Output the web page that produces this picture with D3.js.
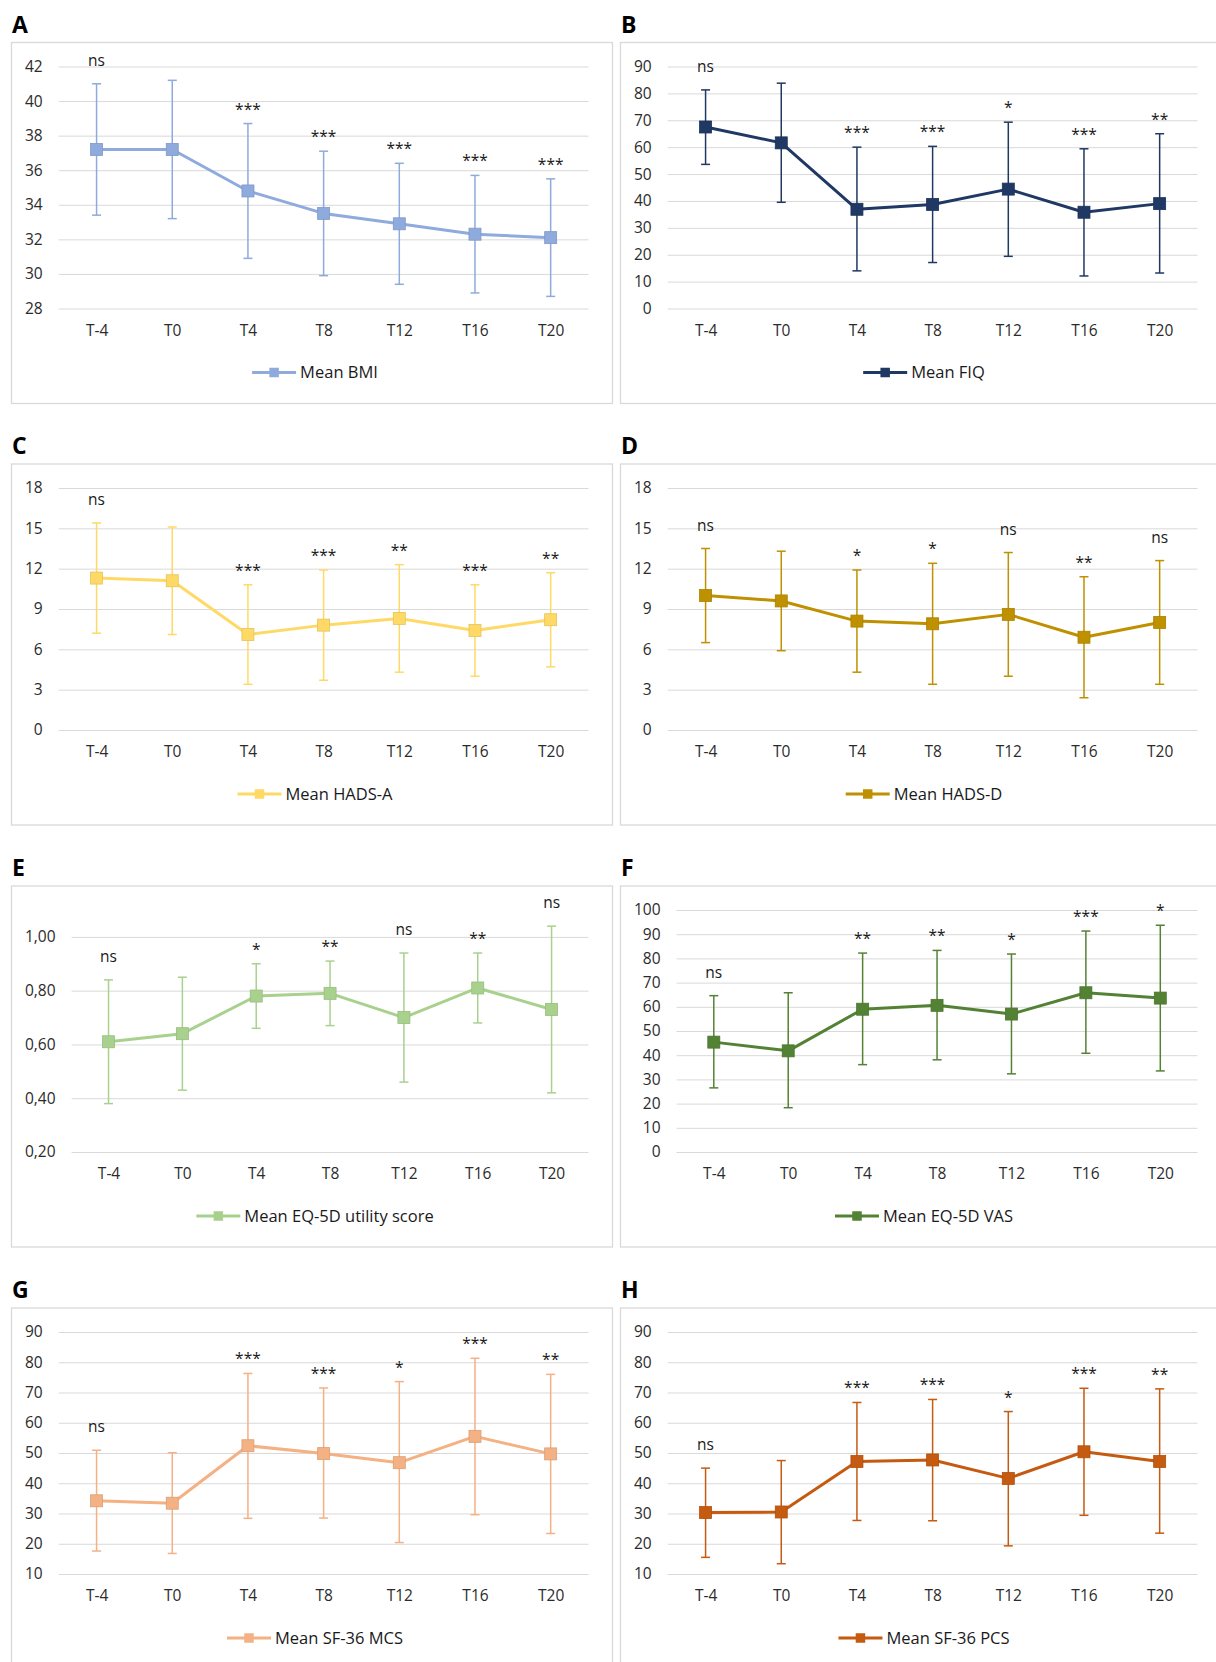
<!DOCTYPE html>
<html lang="en">
<head>
    <meta charset="UTF-8">
    <title>Outcome measures over time</title>
    <style>
        body { margin: 0; background: #fff; }
        svg { display: block; font-family: "Open Sans", sans-serif; }
        .frame { fill: none; stroke: #d9d9d9; stroke-width: 1.3px; }
        .grid line { stroke: #d9d9d9; stroke-width: 1px; }
        .tick-label { font-family: "Open Sans", sans-serif; font-size: 15.5px; fill: #2b2b2b; }
        .sig { font-family: "Open Sans", sans-serif; font-size: 15.5px; fill: #1a1a1a; text-anchor: middle; }
        .legend-text { font-family: "Open Sans", sans-serif; font-size: 16.5px; fill: #1a1a1a; }
        .panel-letter { font-family: "Open Sans", sans-serif; font-size: 23px; font-weight: 700; fill: #000; }
    </style>
</head>
<body>
    <svg width="1216" height="1662"></svg>
    <script src="https://d3js.org/d3.v7.min.js"></script>
    <script>
        const timepoints = ["T-4", "T0", "T4", "T8", "T12", "T16", "T20"];

        // A - BMI
        const bmiMean  = [37.2, 37.2, 34.8, 33.5, 32.9, 32.3, 32.1];
        const bmiUpper = [41.0, 41.2, 38.7, 37.1, 36.4, 35.7, 35.5];
        const bmiLower = [33.4, 33.2, 30.9, 29.9, 29.4, 28.9, 28.7];
        const bmiSig   = ["ns", "", "***", "***", "***", "***", "***"];
        const bmiTicks = [28, 30, 32, 34, 36, 38, 40, 42];

        // B - FIQ
        const fiqMean  = [67.5, 61.6, 36.9, 38.7, 44.4, 35.8, 39.0];
        const fiqUpper = [81.3, 83.8, 60.0, 60.3, 69.3, 59.4, 65.0];
        const fiqLower = [53.6, 39.5, 14.0, 17.1, 19.4, 12.1, 13.2];
        const fiqSig   = ["ns", "", "***", "***", "*", "***", "**"];
        const fiqTicks = [0, 10, 20, 30, 40, 50, 60, 70, 80, 90];

        // C - HADS-A
        const hadsAMean  = [11.3, 11.1, 7.1, 7.8, 8.3, 7.4, 8.2];
        const hadsAUpper = [15.4, 15.1, 10.8, 11.9, 12.3, 10.8, 11.7];
        const hadsALower = [7.2, 7.1, 3.4, 3.7, 4.3, 4.0, 4.7];
        const hadsASig   = ["ns", "", "***", "***", "**", "***", "**"];

        // D - HADS-D
        const hadsDMean  = [10.0, 9.6, 8.1, 7.9, 8.6, 6.9, 8.0];
        const hadsDUpper = [13.5, 13.3, 11.9, 12.4, 13.2, 11.4, 12.6];
        const hadsDLower = [6.5, 5.9, 4.3, 3.4, 4.0, 2.4, 3.4];
        const hadsDSig   = ["ns", "", "*", "*", "ns", "**", "ns"];
        const hadsTicks  = [0, 3, 6, 9, 12, 15, 18];

        // E - EQ-5D utility
        const eqMean  = [0.61, 0.64, 0.78, 0.79, 0.70, 0.81, 0.73];
        const eqUpper = [0.84, 0.85, 0.90, 0.91, 0.94, 0.94, 1.04];
        const eqLower = [0.38, 0.43, 0.66, 0.67, 0.46, 0.68, 0.42];
        const eqSig   = ["ns", "", "*", "**", "ns", "**", "ns"];
        const eqTicks = [0.2, 0.4, 0.6, 0.8, 1.0];

        // F - EQ-5D VAS
        const vasMean  = [45.4, 41.8, 59.0, 60.6, 57.0, 65.8, 63.6];
        const vasUpper = [64.6, 65.8, 82.2, 83.3, 81.8, 91.3, 93.7];
        const vasLower = [26.5, 18.3, 36.1, 38.1, 32.3, 40.8, 33.5];
        const vasSig   = ["ns", "", "**", "**", "*", "***", "*"];
        const vasTicks = [0, 10, 20, 30, 40, 50, 60, 70, 80, 90, 100];

        // G - SF-36 MCS
        const mcsMean  = [34.2, 33.4, 52.4, 49.8, 46.8, 55.5, 49.7];
        const mcsUpper = [50.9, 50.1, 76.3, 71.5, 73.6, 81.3, 76.0];
        const mcsLower = [17.6, 16.8, 28.4, 28.5, 20.4, 29.6, 23.4];
        const mcsSig   = ["ns", "", "***", "***", "*", "***", "**"];

        // H - SF-36 PCS
        const pcsMean  = [30.3, 30.5, 47.2, 47.7, 41.6, 50.4, 47.2];
        const pcsUpper = [45.0, 47.5, 66.7, 67.7, 63.7, 71.4, 71.2];
        const pcsLower = [15.5, 13.4, 27.7, 27.6, 19.3, 29.4, 23.5];
        const pcsSig   = ["ns", "", "***", "***", "*", "***", "**"];
        const sfTicks  = [10, 20, 30, 40, 50, 60, 70, 80, 90];

        const commaFmt = d3.formatLocale({ decimal: ",", thousands: ".", grouping: [3], currency: ["", ""] }).format(".2f");

        const panels = [
            { letter: "A", name: "Mean BMI", mean: bmiMean, upper: bmiUpper, lower: bmiLower, sig: bmiSig, ticks: bmiTicks, max: 42, color: "#8FAADC" },
            { letter: "B", name: "Mean FIQ", mean: fiqMean, upper: fiqUpper, lower: fiqLower, sig: fiqSig, ticks: fiqTicks, max: 90, color: "#203864" },
            { letter: "C", name: "Mean HADS-A", mean: hadsAMean, upper: hadsAUpper, lower: hadsALower, sig: hadsASig, ticks: hadsTicks, max: 18, color: "#FFD966" },
            { letter: "D", name: "Mean HADS-D", mean: hadsDMean, upper: hadsDUpper, lower: hadsDLower, sig: hadsDSig, ticks: hadsTicks, max: 18, color: "#BF9000" },
            { letter: "E", name: "Mean EQ-5D utility score", mean: eqMean, upper: eqUpper, lower: eqLower, sig: eqSig, ticks: eqTicks, max: 1.1, color: "#A9D18E", fmt: commaFmt },
            { letter: "F", name: "Mean EQ-5D VAS", mean: vasMean, upper: vasUpper, lower: vasLower, sig: vasSig, ticks: vasTicks, max: 100, color: "#548235" },
            { letter: "G", name: "Mean SF-36 MCS", mean: mcsMean, upper: mcsUpper, lower: mcsLower, sig: mcsSig, ticks: sfTicks, max: 90, color: "#F4B183" },
            { letter: "H", name: "Mean SF-36 PCS", mean: pcsMean, upper: pcsUpper, lower: pcsLower, sig: pcsSig, ticks: sfTicks, max: 90, color: "#C55A11" }
        ];

        const svg = d3.select("svg");

        // frame layout
        const colX = [11.5, 620.5];
        const rowY = [42.5, 464, 886, 1308];
        const frameW = 601, frameH = 361;
        const plotTop = 24, plotBottom = 266, plotRight = 577;

        panels.forEach((p, i) => {
            const fx = colX[i % 2], fy = rowY[Math.floor(i / 2)];
            const g = svg.append("g").attr("transform", `translate(${fx},${fy})`);

            svg.append("text")
                .attr("class", "panel-letter")
                .attr("x", fx + 0.5)
                .attr("y", fy - 10)
                .text(p.letter);

            g.append("rect")
                .attr("class", "frame")
                .attr("width", frameW)
                .attr("height", frameH);

            const fmt = p.fmt || d3.format("d");

            // measure widest y label to place plot area
            const probe = g.append("text").attr("class", "tick-label");
            let maxW = 0;
            p.ticks.forEach(t => {
                probe.text(fmt(t));
                maxW = Math.max(maxW, probe.node().getComputedTextLength());
            });
            probe.remove();
            const plotLeft = 13.5 + maxW + 16;

            const x = d3.scalePoint()
                .domain(timepoints)
                .range([plotLeft, plotRight])
                .padding(0.5);

            const y = d3.scaleLinear()
                .domain([p.ticks[0], p.max])
                .range([plotBottom, plotTop]);

            // gridlines + y labels
            const yAxis = g.append("g")
                .attr("class", "grid")
                .attr("transform", `translate(${plotLeft},0)`)
                .call(d3.axisLeft(y)
                    .tickValues(p.ticks)
                    .tickSize(-(plotRight - plotLeft))
                    .tickPadding(16)
                    .tickFormat(fmt));
            yAxis.attr("font-family", null).attr("font-size", null);
            yAxis.select(".domain").remove();
            yAxis.selectAll("text")
                .attr("class", "tick-label")
                .attr("fill", null);

            // x labels
            const xAxis = g.append("g")
                .attr("transform", `translate(0,${plotBottom})`)
                .call(d3.axisBottom(x).tickSize(0));
            xAxis.attr("font-family", null).attr("font-size", null);
            xAxis.select(".domain").remove();
            xAxis.selectAll("text")
                .attr("class", "tick-label")
                .attr("fill", null)
                .attr("dy", "0.36em")
                .attr("y", 21.5);

            const pts = timepoints.map((t, j) => ({
                t, mean: p.mean[j], upper: p.upper[j], lower: p.lower[j], sig: p.sig[j]
            }));

            // line
            g.append("path")
                .datum(pts)
                .attr("fill", "none")
                .attr("stroke", p.color)
                .attr("stroke-width", 3)
                .attr("stroke-linejoin", "round")
                .attr("d", d3.line().x(d => x(d.t)).y(d => y(d.mean)));

            // error bars
            const eb = g.selectAll(".err")
                .data(pts)
                .enter().append("g")
                .attr("class", "err")
                .attr("stroke", p.color)
                .attr("stroke-width", 1.5);
            eb.append("line")
                .attr("x1", d => x(d.t)).attr("x2", d => x(d.t))
                .attr("y1", d => y(d.lower)).attr("y2", d => y(d.upper));
            eb.append("line")
                .attr("x1", d => x(d.t) - 4.5).attr("x2", d => x(d.t) + 4.5)
                .attr("y1", d => y(d.upper)).attr("y2", d => y(d.upper));
            eb.append("line")
                .attr("x1", d => x(d.t) - 4.5).attr("x2", d => x(d.t) + 4.5)
                .attr("y1", d => y(d.lower)).attr("y2", d => y(d.lower));

            // markers
            g.selectAll(".mk")
                .data(pts)
                .enter().append("rect")
                .attr("class", "mk")
                .attr("x", d => x(d.t) - 6)
                .attr("y", d => y(d.mean) - 6)
                .attr("width", 12)
                .attr("height", 12)
                .attr("fill", p.color)
                .attr("stroke", d3.rgb(p.color).darker(0.3))
                .attr("stroke-width", 0.8);

            // significance labels
            g.selectAll(".sig")
                .data(pts.filter(d => d.sig))
                .enter().append("text")
                .attr("class", "sig")
                .attr("x", d => x(d.t))
                .attr("y", d => y(d.upper) - (d.sig === "ns" ? 18 : 9))
                .text(d => d.sig);

            // legend
            const lg = g.append("g");
            lg.append("line")
                .attr("x1", 0).attr("x2", 44)
                .attr("stroke", p.color)
                .attr("stroke-width", 3);
            lg.append("rect")
                .attr("x", 17.25).attr("y", -4.75)
                .attr("width", 9.5).attr("height", 9.5)
                .attr("fill", p.color);
            const lt = lg.append("text")
                .attr("class", "legend-text")
                .attr("x", 48)
                .attr("dy", "0.36em")
                .text(p.name);
            const lw = 48 + lt.node().getComputedTextLength();
            lg.attr("transform", `translate(${frameW / 2 + 3 - lw / 2},330)`);
        });
    </script>
</body>
</html>
